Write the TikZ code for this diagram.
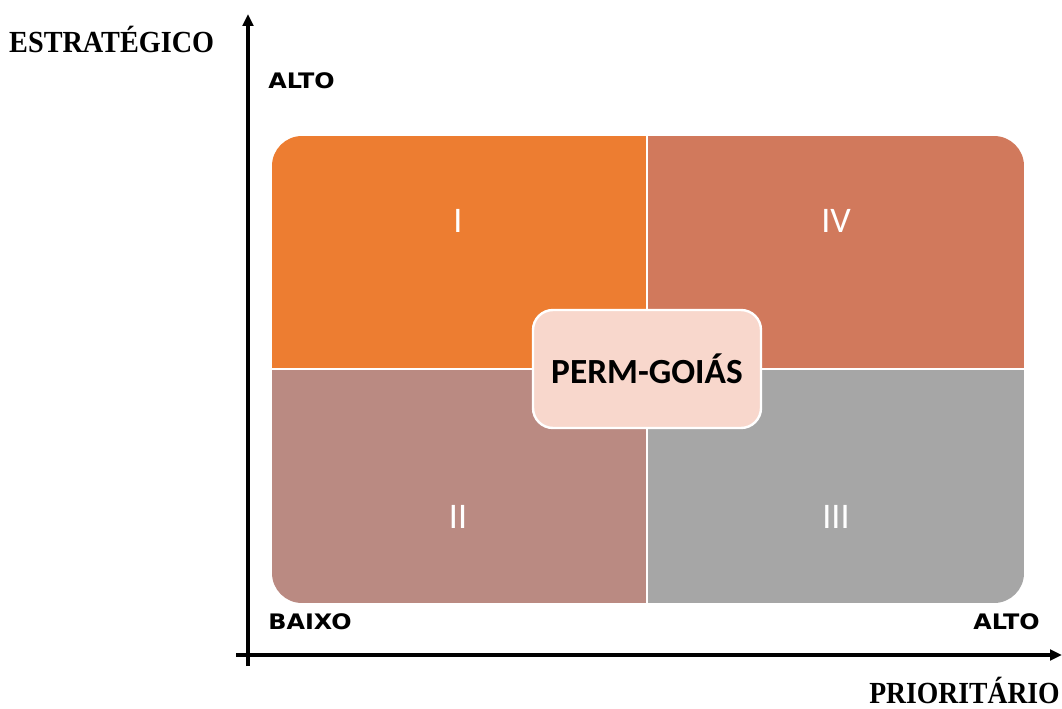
\documentclass[tikz,border=0pt]{standalone}
\usetikzlibrary{arrows.meta}
\usepackage{fontspec}
\setmainfont{Carlito}
\newfontfamily\axisfont{DejaVu Sans}
\newfontfamily\titlefont{Liberation Serif}
\definecolor{qone}{RGB}{237,125,49}
\definecolor{qfour}{RGB}{209,121,92}
\definecolor{qtwo}{RGB}{186,138,130}
\definecolor{qthree}{RGB}{166,166,166}
\definecolor{centerfill}{RGB}{248,215,204}
\begin{document}
\begin{tikzpicture}[x=0.75pt,y=-0.75pt,
  numeral/.style={text=white,font=\fontsize{27}{30}\selectfont},
  axislabel/.style={font=\axisfont\bfseries\fontsize{16}{18}\selectfont,inner sep=0pt,xscale=1.12,transform shape},
  axistitle/.style={font=\titlefont\bfseries\fontsize{23}{26}\selectfont,inner sep=0pt,xscale=0.92,transform shape},
  axisline/.style={line width=2.4pt,-{Triangle[length=9pt,width=8pt]}}]
\useasboundingbox (0,0) rectangle (1062,709);
% quadrants
\begin{scope}
\clip[rounded corners=22.5pt] (272,136) rectangle (1024,603);
\fill[qone] (272,136) rectangle (647,369);
\fill[qfour] (647,136) rectangle (1024,369);
\fill[qtwo] (272,369) rectangle (647,603);
\fill[qthree] (647,369) rectangle (1024,603);
\draw[white,line width=1.5pt] (647,136) -- (647,603);
\draw[white,line width=1.5pt] (272,369) -- (1024,369);
\end{scope}
\node[numeral] (n1) at (458,221) {I};
\node[numeral] (n4) at (836,221) {IV};
\node[numeral] (n2) at (458,517) {II};
\node[numeral] (n3) at (836,517) {III};
\node[draw=white,line width=1.8pt,fill=centerfill,rounded corners=15pt,
  minimum width=171pt,minimum height=88.5pt,
  font=\bfseries\fontsize{26.5}{28}\selectfont] (c) at (647,369) {PERM-GOIÁS};
% axes
\coordinate (ystart) at (248,666);
\coordinate (yend) at (248,14);
\coordinate (xstart) at (236,655);
\coordinate (xend) at (1062,655);
\draw[axisline] (ystart) -- (yend);
\draw[axisline] (xstart) -- (xend);
\node[axislabel,anchor=base west] (ytop) at (268,89) {ALTO};
\node[axislabel,anchor=base west] (low) at (268,629) {BAIXO};
\node[axislabel,anchor=base east] (xtop) at (1040,629) {ALTO};
\node[axistitle,anchor=base west] (ytitle) at (9,53) {ESTRATÉGICO};
\node[axistitle,anchor=base east,xscale=0.98] (xtitle) at (1060,703) {PRIORITÁRIO};
\end{tikzpicture}
\end{document}
